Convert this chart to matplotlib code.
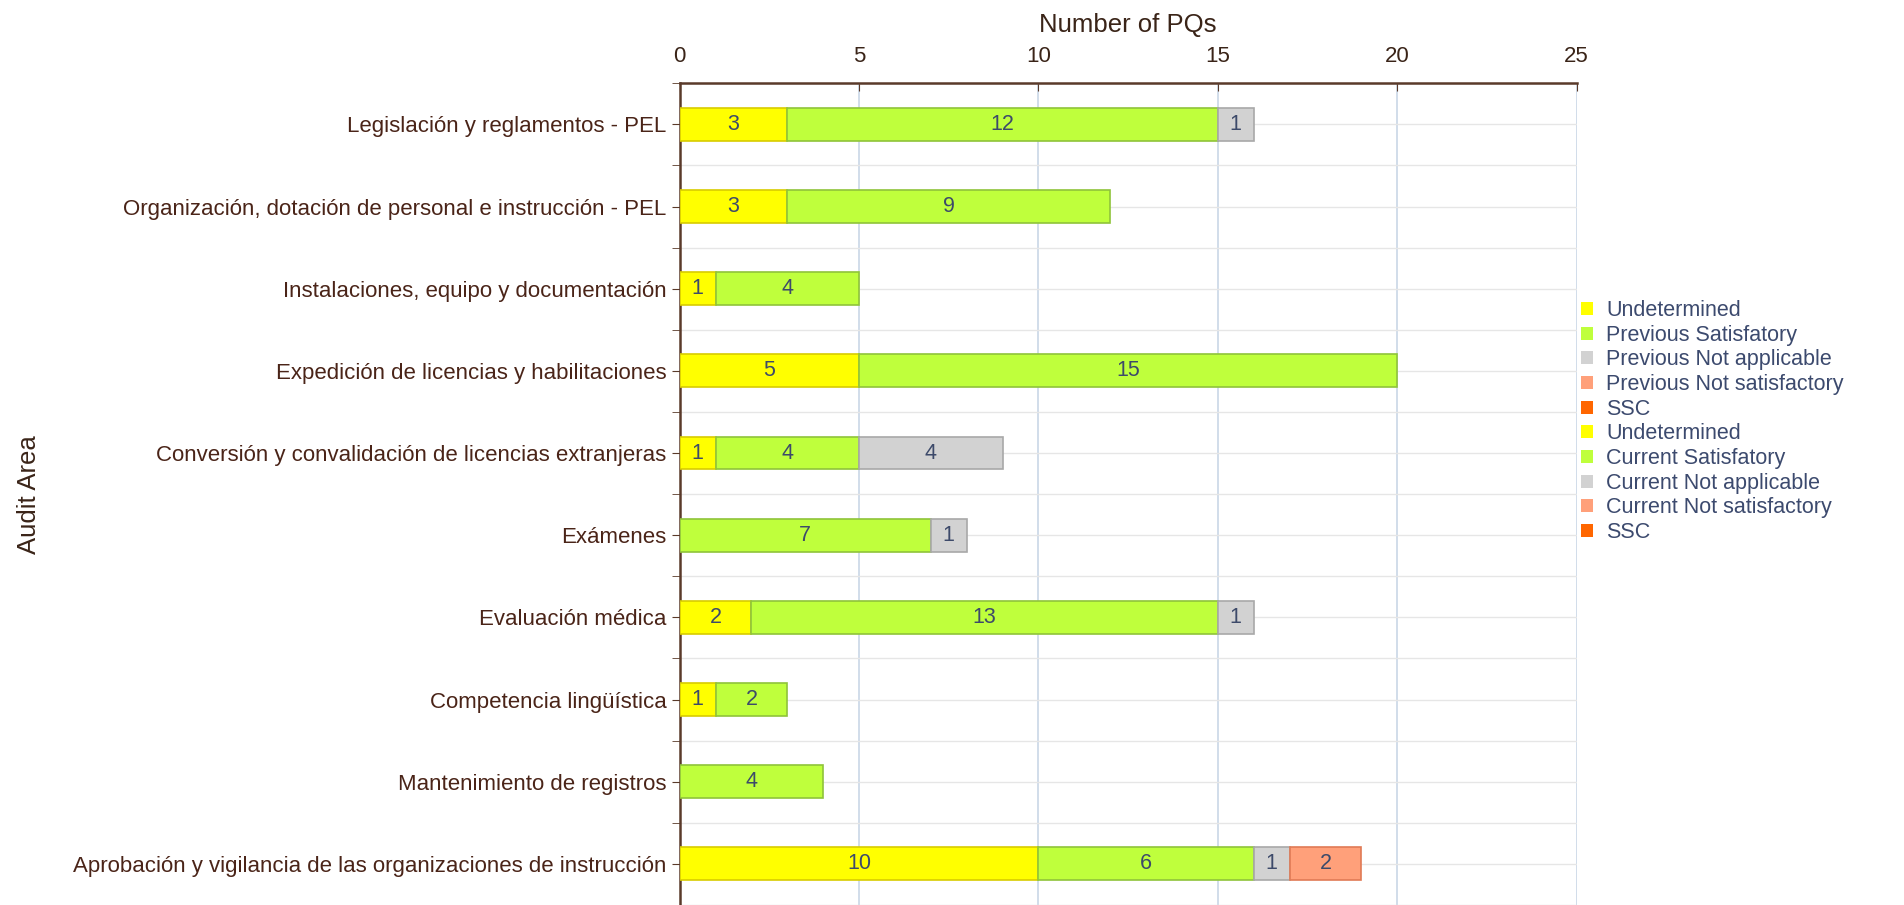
import numpy as np
import matplotlib.pyplot as plt
from matplotlib.patches import Patch
from matplotlib.ticker import FixedLocator

plt.rcParams["font.family"] = ["Liberation Sans", "DejaVu Sans"]

# Datos
areas = [
    "Legislación y reglamentos - PEL",
    "Organización, dotación de personal e instrucción - PEL",
    "Instalaciones, equipo y documentación",
    "Expedición de licencias y habilitaciones",
    "Conversión y convalidación de licencias extranjeras",
    "Exámenes",
    "Evaluación médica",
    "Competencia lingüística",
    "Mantenimiento de registros",
    "Aprobación y vigilancia de las organizaciones de instrucción",
]
undetermined = [3, 3, 1, 5, 1, 0, 2, 1, 0, 10]
satisfactory = [12, 9, 4, 15, 4, 7, 13, 2, 4, 6]
not_applicable = [1, 0, 0, 0, 4, 1, 1, 0, 0, 1]
not_satisfactory = [0, 0, 0, 0, 0, 0, 0, 0, 0, 2]
ssc = [0, 0, 0, 0, 0, 0, 0, 0, 0, 0]

legend_labels = [
    "Undetermined", "Previous Satisfatory", "Previous Not applicable",
    "Previous Not satisfactory", "SSC",
    "Undetermined", "Current Satisfatory", "Current Not applicable",
    "Current Not satisfactory", "SSC",
]

colores = ["#ffff00", "#bfff3c", "#d2d2d2", "#ffa07a", "#ff6600"]
bordes = ["#d8cc00", "#8fc43a", "#a8a8a8", "#e07a55", "#d45000"]
series = [undetermined, satisfactory, not_applicable, not_satisfactory, ssc]

fig = plt.figure(figsize=(19.04, 9.05), dpi=100)
ax = fig.add_axes([0.357, 0.0, 0.471, 0.908])

y = np.arange(len(areas))
izq = np.zeros(len(areas))
for vals, c, e in zip(series, colores, bordes):
    vals = np.array(vals, dtype=float)
    m = vals > 0
    bars = ax.barh(y[m], vals[m], left=izq[m], height=0.4,
                   color=c, edgecolor=e, linewidth=1.2, zorder=3)
    for b, v in zip(bars, vals[m]):
        ax.text(b.get_x() + b.get_width() / 2, b.get_y() + b.get_height() / 2,
                f"{int(v)}", ha="center", va="center",
                fontsize=15.5, color="#3d4a6a", zorder=4)
    izq += vals

ax.set_xlim(0, 25)
ax.set_ylim(len(areas) - 0.5, -0.5)

ax.xaxis.tick_top()
ax.xaxis.set_label_position("top")
ax.set_xticks([0, 5, 10, 15, 20, 25])
ax.tick_params(axis="x", direction="in", length=6, colors="#5a3a2a",
               labelcolor="#3a2418", labelsize=16, pad=12)
ax.set_xlabel("Number of PQs", fontsize=18.5, color="#3a2418", labelpad=10)

ax.set_yticks(y)
ax.set_yticklabels(areas)
ax.yaxis.set_minor_locator(FixedLocator(np.arange(-0.5, len(areas), 1.0)))
ax.tick_params(axis="y", which="both", direction="out", length=6,
               colors="#5a3a2a", labelcolor="#4a2418", labelsize=16)
ax.set_ylabel("Audit Area", fontsize=18.5, color="#3a2418")
ax.yaxis.set_label_coords(-0.712, 0.5)

# Rejilla
ax.grid(axis="x", color="#c9d7e6", linewidth=1.2, zorder=0)
ax.grid(axis="y", which="both", color="#e6e6e6", linewidth=1.0, zorder=0)
ax.set_axisbelow(True)

for s in ["right", "bottom"]:
    ax.spines[s].set_visible(False)
for s in ["left", "top"]:
    ax.spines[s].set_color("#5a3a2a")
    ax.spines[s].set_linewidth(1.8)

leyenda = [Patch(facecolor=c, edgecolor="none", label=l)
           for c, l in zip(colores + colores, legend_labels)]
fig.legend(handles=leyenda, loc="upper left", bbox_to_anchor=(0.826, 0.678),
           frameon=False, fontsize=15.5, labelcolor="#3c4a6e",
           handlelength=0.55, handleheight=0.55, handletextpad=0.6,
           labelspacing=0.17, borderaxespad=0)

fig.savefig("out.png", dpi=100)
